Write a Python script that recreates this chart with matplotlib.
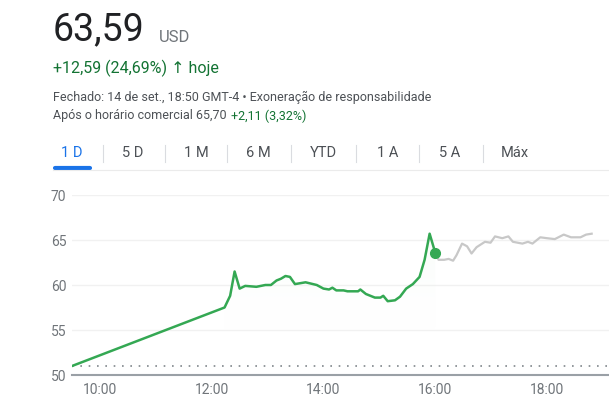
import matplotlib
matplotlib.use("Agg")
import matplotlib.pyplot as plt
import numpy as np
from matplotlib.colors import LinearSegmentedColormap

plt.rcParams['font.family'] = ['Roboto', 'DejaVu Sans']

# trading session (hours, price)
t_main = [9.5, 12.23, 12.33, 12.41, 12.5, 12.6, 12.8, 12.96, 13.06, 13.16, 13.24, 13.32, 13.4, 13.49,
          13.68, 13.88, 14.0, 14.1, 14.16, 14.23, 14.36, 14.43, 14.53, 14.62, 14.66, 14.76, 14.92,
          15.02, 15.07, 15.15, 15.28, 15.37, 15.48, 15.6, 15.72, 15.81, 15.9, 16.0]
p_main = [51.0, 57.5, 58.8, 61.5, 59.6, 59.9, 59.8, 60.0, 60.0, 60.5, 60.7, 61.0, 60.9, 60.1,
          60.3, 60.0, 59.6, 59.5, 59.7, 59.4, 59.4, 59.3, 59.3, 59.3, 59.5, 59.0, 58.6,
          58.6, 58.8, 58.2, 58.3, 58.7, 59.6, 60.1, 60.9, 62.8, 65.7, 63.6]
# after hours
t_after = [16.0, 16.06, 16.16, 16.24, 16.32, 16.38, 16.48, 16.57, 16.65, 16.74, 16.89, 16.99, 17.07,
           17.2, 17.31, 17.39, 17.56, 17.66, 17.74, 17.88, 18.0, 18.14, 18.3, 18.43, 18.6, 18.7, 18.8]
p_after = [63.6, 62.8, 62.8, 62.9, 62.7, 63.3, 64.6, 64.3, 63.5, 64.2, 64.8, 64.7, 65.4,
           65.2, 65.4, 64.8, 64.6, 64.8, 64.6, 65.3, 65.2, 65.1, 65.6, 65.3, 65.3, 65.6, 65.7]
prev_close = 51.0
y_ticks = [50, 55, 60, 65, 70]
x_ticks = [10, 12, 14, 16, 18]
x_labels = ["10:00", "12:00", "14:00", "16:00", "18:00"]
tabs = ["1 D", "5 D", "1 M", "6 M", "YTD", "1 A", "5 A", "Máx"]

W, H = 609, 415
fig = plt.figure(figsize=(W/100, H/100), dpi=100)
fig.patch.set_facecolor("white")

def fx(px): return px / W
def fy(py): return 1 - py / H

green = "#34a853"
gray_t = "#4d5156"

fig.text(fx(53), fy(30), "63,59", fontsize=27, color="#202124", va="center")
fig.text(fx(159), fy(37), "USD", fontsize=12, color="#70757a", va="center")
fig.text(fx(53), fy(68), "+12,59 (24,69%) \u2191 hoje", fontsize=11.5, color="#137333", va="center")
fig.text(fx(53), fy(97), "Fechado: 14 de set., 18:50 GMT-4 \u2022 Exoneração de responsabilidade",
         fontsize=9, color=gray_t, va="center")
fig.text(fx(53), fy(116), "Após o horário comercial 65,70", fontsize=9, color=gray_t, va="center")
fig.text(fx(231), fy(116), "+2,11 (3,32%)", fontsize=9, color="#137333", va="center")

tab_x = [72, 133, 196, 258, 323, 388, 450, 515]
for i, (lab, x) in enumerate(zip(tabs, tab_x)):
    fig.text(fx(x), fy(153), lab, fontsize=10.5, color="#1a73e8" if i == 0 else gray_t,
             ha="center", va="center")
    if i > 0:
        sx = (tab_x[i-1] + x) / 2
        fig.add_artist(plt.Line2D([fx(sx), fx(sx)], [fy(145), fy(162)], color="#dadce0", lw=0.8))
fig.add_artist(plt.Line2D([fx(55), fx(90)], [fy(168), fy(168)], color="#1a73e8", lw=3,
                          solid_capstyle="round"))
fig.add_artist(plt.Line2D([fx(53), fx(609)], [fy(170), fy(170)], color="#ebebeb", lw=0.8))

ax = fig.add_axes([fx(72), fy(375), 1 - fx(72), fy(195) - fy(375)])
ax.set_xlim(9.5, 19.11)
ax.set_ylim(50, 70)
for s in ["top", "right", "left"]:
    ax.spines[s].set_visible(False)
ax.spines["bottom"].set_color("#9aa0a6")
ax.spines["bottom"].set_linewidth(1.5)
ax.set_yticks(y_ticks)
ax.set_yticklabels([str(v) for v in y_ticks])
ax.set_xticks(x_ticks)
ax.set_xticklabels(x_labels)
ax.tick_params(axis="y", length=0, pad=4, labelsize=10, labelcolor="#70757a")
ax.tick_params(axis="x", length=0, pad=6, labelsize=10, labelcolor="#70757a")
for v in y_ticks[1:]:
    ax.axhline(v, color="#f1f1f1", lw=1, zorder=0)
ax.axhline(prev_close, color="#80868b", lw=1.2, ls=(0, (1, 4)), zorder=1)

# gradient fill under session line
tm = np.array(t_main); pm = np.array(p_main)
fill_lo = 54.5
poly = ax.fill_between(tm, pm, fill_lo, where=tm >= 12.2, color="none")
grad = np.linspace(0.0, 0.2, 256).reshape(-1, 1)
cmap = LinearSegmentedColormap.from_list("g", [(1, 1, 1, 0), (0.2, 0.66, 0.33, 1)])
im = ax.imshow(grad, extent=[12.2, 16.0, fill_lo, 66], origin="lower", aspect="auto",
               cmap=cmap, vmin=0, vmax=1, zorder=1)
im.set_clip_path(poly.get_paths()[0], transform=ax.transData)

ax.plot(t_after, p_after, color="#c8c8c8", lw=1.6, zorder=2)
ax.plot(t_main, p_main, color=green, lw=1.8, zorder=3)
ax.plot([t_main[-1]], [p_main[-1]], "o", color=green, ms=7, zorder=4)

fig.savefig("out.png", dpi=100, facecolor="white")
